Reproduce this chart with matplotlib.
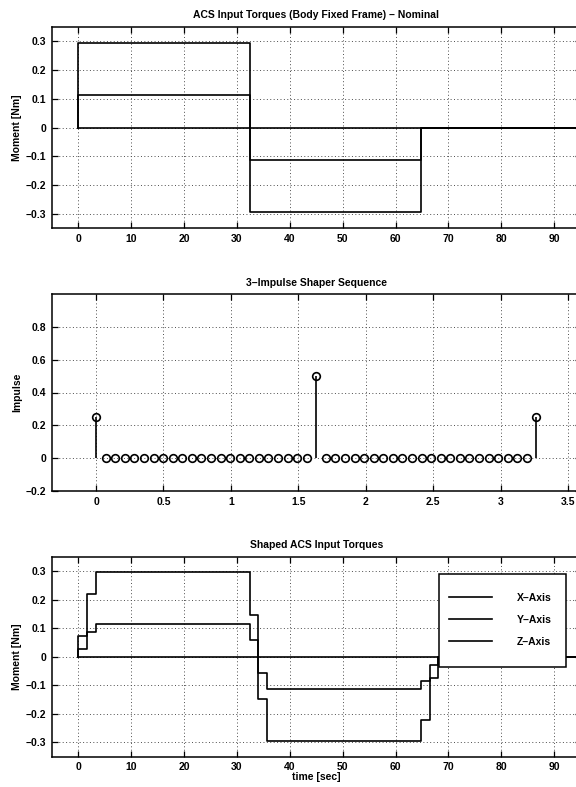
import matplotlib
matplotlib.use("Agg")
import matplotlib.pyplot as plt
from matplotlib.patches import Rectangle
from matplotlib.ticker import FuncFormatter

# Nominal (bang-bang) torques, step levels held from each time
nom_time = [0, 0, 32.4, 64.8, 100]
nom_x = [0, 0, 0, 0, 0]
nom_y = [0, 0.113, -0.113, 0, 0]
nom_z = [0, 0.295, -0.295, 0, 0]

# 3-impulse shaper
shaper_dt = 0.071
shaper_amp = [0.25] + [0] * 22 + [0.5] + [0] * 22 + [0.25]

# Shaped torques
shp_time = [0, 0, 1.633, 3.266, 32.4, 34.03, 35.67, 64.8, 66.43, 68.07, 100]
shp_x = [0, 0, 0, 0, 0, 0, 0, 0, 0, 0, 0]
shp_y = [0, 0.028, 0.085, 0.113, 0.057, -0.057, -0.113, -0.085, -0.028, 0, 0]
shp_z = [0, 0.074, 0.221, 0.295, 0.147, -0.147, -0.295, -0.221, -0.074, 0, 0]

time_ticks = [0, 10, 20, 30, 40, 50, 60, 70, 80, 90]
torque_ticks = [-0.3, -0.2, -0.1, 0, 0.1, 0.2, 0.3]
shaper_xticks = [0, 0.5, 1, 1.5, 2, 2.5, 3, 3.5]
shaper_yticks = [-0.2, 0, 0.2, 0.4, 0.6, 0.8]
legend_labels = ["X\u2013Axis", "Y\u2013Axis", "Z\u2013Axis"]

FS = 7.5
plt.rcParams["font.family"] = ["Liberation Sans", "DejaVu Sans"]
plt.rcParams["font.size"] = FS
plt.rcParams["font.weight"] = "bold"
plt.rcParams["axes.titleweight"] = "bold"
plt.rcParams["axes.labelweight"] = "bold"
plt.rcParams["axes.unicode_minus"] = True

W, H = 576, 787
fig = plt.figure(figsize=(W / 100, H / 100), dpi=100)
fig.patch.set_facecolor("white")


def px_axes(top, bottom, left=52, right=580.5):
    return fig.add_axes([left / W, 1 - bottom / H, (right - left) / W, (bottom - top) / H])


def fmt(v, pos):
    return f"{v:g}".replace("-", "\u2212")


def style(ax):
    ax.grid(True, color="0.3", linestyle=(0, (1, 2.5)), linewidth=0.7)
    ax.tick_params(direction="in", top=True, right=True, length=4, width=0.9,
                   labelsize=FS, pad=4)
    for s in ax.spines.values():
        s.set_linewidth(1.1)
    ax.xaxis.set_major_formatter(FuncFormatter(fmt))
    ax.yaxis.set_major_formatter(FuncFormatter(fmt))


LW = 1.2

# Top: nominal torques
ax1 = px_axes(26.7, 228.3)
ax1.step(nom_time, nom_x, where="post", color="k", lw=LW)
ax1.step(nom_time, nom_y, where="post", color="k", lw=LW)
ax1.step(nom_time, nom_z, where="post", color="k", lw=LW)
ax1.set_xticks(time_ticks)
ax1.set_yticks(torque_ticks)
ax1.set_xlim(-5, 95)
ax1.set_ylim(-0.35, 0.35)
style(ax1)
ax1.set_title("ACS Input Torques (Body Fixed Frame) \u2013 Nominal", fontsize=FS, pad=6)
ax1.set_ylabel("Moment [Nm]", fontsize=FS, labelpad=3)

# Middle: shaper sequence
ax2 = px_axes(294, 491)
shaper_t = [i * shaper_dt for i in range(len(shaper_amp))]
ml, sl, bl = ax2.stem(shaper_t, shaper_amp, linefmt="k-", markerfmt="ko", basefmt=" ")
ml.set_markerfacecolor("none")
ml.set_markersize(5.5)
ml.set_markeredgewidth(1.2)
sl.set_linewidth(LW)
ax2.set_xticks(shaper_xticks)
ax2.set_yticks(shaper_yticks)
ax2.set_xlim(-0.327, 3.593)
ax2.set_ylim(-0.2, 1.0)
style(ax2)
ax2.set_title("3\u2013Impulse Shaper Sequence", fontsize=FS, pad=6)
ax2.set_ylabel("Impulse", fontsize=FS, labelpad=3)

# Bottom: shaped torques
ax3 = px_axes(556.7, 756.7)
h1, = ax3.step(shp_time, shp_x, where="post", color="k", lw=LW)
h2, = ax3.step(shp_time, shp_y, where="post", color="k", lw=LW)
h3, = ax3.step(shp_time, shp_z, where="post", color="k", lw=LW)
ax3.set_xticks(time_ticks)
ax3.set_yticks(torque_ticks)
ax3.set_xlim(-5, 95)
ax3.set_ylim(-0.35, 0.35)
style(ax3)
ax3.set_title("Shaped ACS Input Torques", fontsize=FS, pad=6)
ax3.set_ylabel("Moment [Nm]", fontsize=FS, labelpad=3)
ax3.set_xlabel("time [sec]", fontsize=FS, labelpad=0)

# legend box (MATLAB style, large padding)
box = Rectangle((439 / W, 1 - 667 / H), 127 / W, 93 / H, transform=fig.transFigure,
                facecolor="white", edgecolor="black", lw=1.1, zorder=4, clip_on=False)
ax3.add_patch(box)
leg = ax3.legend([h1, h2, h3], legend_labels, loc="upper left",
                 bbox_to_anchor=(449 / W, 1 - 593 / H), bbox_transform=fig.transFigure,
                 frameon=False, borderpad=0, borderaxespad=0, handlelength=4.1,
                 handletextpad=2.4, labelspacing=1.13, fontsize=FS)
leg.set_zorder(5)

fig.savefig("out.png", dpi=100)
